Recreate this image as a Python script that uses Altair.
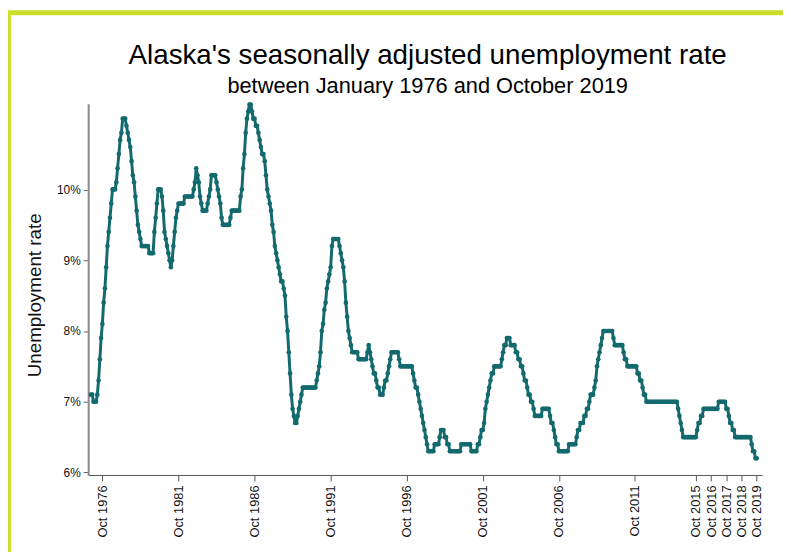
import altair as alt
import pandas as pd

# Alaska seasonally adjusted unemployment rate (%), monthly, Jan 1976 - Oct 2019
rates_by_year = {
    1976: [7.1, 7.1, 7.0, 7.0, 7.0, 7.1, 7.3, 7.6, 7.9, 8.1, 8.4, 8.6],
    1977: [8.9, 9.2, 9.4, 9.6, 9.8, 10.0, 10.0, 10.0, 10.1, 10.3, 10.5, 10.7],
    1978: [10.8, 11.0, 11.0, 11.0, 10.9, 10.8, 10.7, 10.6, 10.4, 10.2, 10.1, 9.9],
    1979: [9.7, 9.5, 9.4, 9.3, 9.2, 9.2, 9.2, 9.2, 9.2, 9.2, 9.1, 9.1],
    1980: [9.1, 9.1, 9.4, 9.6, 9.8, 10.0, 10.0, 10.0, 9.9, 9.7, 9.4, 9.3],
    1981: [9.2, 9.1, 9.0, 8.9, 9.0, 9.2, 9.4, 9.6, 9.7, 9.8, 9.8, 9.8],
    1982: [9.8, 9.8, 9.9, 9.9, 9.9, 9.9, 9.9, 9.9, 9.9, 10.0, 10.1, 10.3],
    1983: [10.2, 10.1, 9.9, 9.8, 9.7, 9.7, 9.7, 9.7, 9.8, 9.9, 10.0, 10.2],
    1984: [10.2, 10.2, 10.2, 10.1, 10.0, 9.9, 9.8, 9.6, 9.5, 9.5, 9.5, 9.5],
    1985: [9.5, 9.5, 9.6, 9.7, 9.7, 9.7, 9.7, 9.7, 9.7, 9.7, 9.9, 10.0],
    1986: [10.3, 10.5, 10.8, 11.0, 11.1, 11.2, 11.2, 11.1, 11.0, 11.0, 10.9, 10.9],
    1987: [10.8, 10.7, 10.6, 10.5, 10.5, 10.4, 10.2, 10.0, 9.9, 9.8, 9.7, 9.5],
    1988: [9.4, 9.2, 9.1, 9.0, 8.9, 8.8, 8.7, 8.7, 8.6, 8.5, 8.2, 8.0],
    1989: [7.7, 7.4, 7.1, 6.9, 6.8, 6.7, 6.7, 6.8, 6.9, 7.0, 7.1, 7.2],
    1990: [7.2, 7.2, 7.2, 7.2, 7.2, 7.2, 7.2, 7.2, 7.2, 7.2, 7.3, 7.4],
    1991: [7.5, 7.7, 8.0, 8.1, 8.3, 8.4, 8.6, 8.7, 8.8, 8.9, 9.2, 9.3],
    1992: [9.3, 9.3, 9.3, 9.3, 9.2, 9.1, 9.0, 8.9, 8.7, 8.4, 8.2, 8.0],
    1993: [7.9, 7.8, 7.7, 7.7, 7.7, 7.7, 7.7, 7.6, 7.6, 7.6, 7.6, 7.6],
    1994: [7.6, 7.6, 7.7, 7.8, 7.7, 7.6, 7.5, 7.4, 7.4, 7.3, 7.2, 7.2],
    1995: [7.1, 7.1, 7.1, 7.2, 7.3, 7.3, 7.4, 7.5, 7.6, 7.7, 7.7, 7.7],
    1996: [7.7, 7.7, 7.7, 7.6, 7.5, 7.5, 7.5, 7.5, 7.5, 7.5, 7.5, 7.5],
    1997: [7.5, 7.5, 7.4, 7.3, 7.2, 7.2, 7.1, 7.0, 6.9, 6.8, 6.7, 6.6],
    1998: [6.5, 6.4, 6.3, 6.3, 6.3, 6.3, 6.3, 6.4, 6.4, 6.4, 6.4, 6.5],
    1999: [6.6, 6.6, 6.6, 6.5, 6.5, 6.4, 6.4, 6.3, 6.3, 6.3, 6.3, 6.3],
    2000: [6.3, 6.3, 6.3, 6.3, 6.4, 6.4, 6.4, 6.4, 6.4, 6.4, 6.4, 6.4],
    2001: [6.3, 6.3, 6.3, 6.3, 6.3, 6.4, 6.4, 6.5, 6.6, 6.6, 6.7, 6.9],
    2002: [7.0, 7.1, 7.2, 7.3, 7.4, 7.4, 7.5, 7.5, 7.5, 7.5, 7.5, 7.5],
    2003: [7.6, 7.7, 7.8, 7.8, 7.9, 7.9, 7.9, 7.8, 7.8, 7.8, 7.8, 7.7],
    2004: [7.7, 7.6, 7.6, 7.5, 7.5, 7.4, 7.3, 7.3, 7.2, 7.1, 7.1, 7.0],
    2005: [7.0, 6.9, 6.8, 6.8, 6.8, 6.8, 6.8, 6.8, 6.9, 6.9, 6.9, 6.9],
    2006: [6.9, 6.9, 6.8, 6.7, 6.7, 6.6, 6.5, 6.4, 6.4, 6.3, 6.3, 6.3],
    2007: [6.3, 6.3, 6.3, 6.3, 6.3, 6.4, 6.4, 6.4, 6.4, 6.4, 6.4, 6.5],
    2008: [6.6, 6.6, 6.7, 6.7, 6.7, 6.8, 6.8, 6.9, 6.9, 7.0, 7.1, 7.1],
    2009: [7.1, 7.2, 7.3, 7.5, 7.6, 7.7, 7.8, 7.9, 8.0, 8.0, 8.0, 8.0],
    2010: [8.0, 8.0, 8.0, 8.0, 7.9, 7.8, 7.8, 7.8, 7.8, 7.8, 7.8, 7.8],
    2011: [7.7, 7.6, 7.6, 7.5, 7.5, 7.5, 7.5, 7.5, 7.5, 7.5, 7.5, 7.4],
    2012: [7.4, 7.3, 7.3, 7.2, 7.1, 7.1, 7.0, 7.0, 7.0, 7.0, 7.0, 7.0],
    2013: [7.0, 7.0, 7.0, 7.0, 7.0, 7.0, 7.0, 7.0, 7.0, 7.0, 7.0, 7.0],
    2014: [7.0, 7.0, 7.0, 7.0, 7.0, 7.0, 7.0, 6.9, 6.8, 6.7, 6.6, 6.5],
    2015: [6.5, 6.5, 6.5, 6.5, 6.5, 6.5, 6.5, 6.5, 6.5, 6.5, 6.6, 6.7],
    2016: [6.7, 6.8, 6.8, 6.9, 6.9, 6.9, 6.9, 6.9, 6.9, 6.9, 6.9, 6.9],
    2017: [6.9, 6.9, 6.9, 7.0, 7.0, 7.0, 7.0, 7.0, 7.0, 6.9, 6.9, 6.8],
    2018: [6.7, 6.7, 6.6, 6.6, 6.5, 6.5, 6.5, 6.5, 6.5, 6.5, 6.5, 6.5],
    2019: [6.5, 6.5, 6.5, 6.5, 6.5, 6.4, 6.3, 6.3, 6.2, 6.2],
}

month_names = ["Jan", "Feb", "Mar", "Apr", "May", "Jun",
               "Jul", "Aug", "Sep", "Oct", "Nov", "Dec"]

tick_years = [1976, 1981, 1986, 1991, 1996, 2001, 2006, 2011,
              2015, 2016, 2017, 2018, 2019]
tick_month = 10  # October
y_ticks = [6, 7, 8, 9, 10]

title_text = "Alaska's seasonally adjusted unemployment rate"
subtitle_text = "between January 1976 and October 2019"
y_title = "Unemployment rate"

line_color = "#136a6e"
border_color = "#cddd2b"

rows = []
idx = 0
for yr, vals in rates_by_year.items():
    for m, v in enumerate(vals):
        rows.append({"idx": idx, "label": f"{month_names[m]} {yr}", "rate": v})
        idx += 1
df = pd.DataFrame(rows)

tick_vals = [(y - 1976) * 12 + (tick_month - 1) for y in tick_years]

font = "Liberation Sans"

x_enc = alt.X(
    "idx:Q",
    scale=alt.Scale(domain=[-2.2, 529.3], nice=False, zero=False),
    axis=alt.Axis(
        values=tick_vals,
        labelExpr="'Oct ' + (1976 + floor(datum.value / 12))",
        labelAngle=-90,
        title=None,
        grid=False,
        tickSize=6,
        labelPadding=4,
        labelFontSize=13,
        labelFont=font,
        labelColor="#111",
        domainColor="#555",
        tickColor="#555",
        domainWidth=1,
    ),
)
y_enc = alt.Y(
    "rate:Q",
    scale=alt.Scale(domain=[5.965, 11.21], nice=False, zero=False),
    axis=alt.Axis(
        values=y_ticks,
        labelExpr="datum.value + '%'",
        title=y_title,
        titleFont=font,
        titleFontSize=19,
        titleFontWeight="normal",
        titleColor="#111",
        titlePadding=12,
        titleY=295 - 102,
        grid=False,
        tickSize=5,
        labelPadding=3,
        labelFontSize=12,
        labelFont=font,
        labelColor="#111",
        domainColor="#8a8a8a",
        tickColor="#666",
        domainWidth=2,
    ),
)

line = alt.Chart(df).mark_line(
    color=line_color,
    strokeWidth=3,
    point=alt.OverlayMarkDef(filled=True, size=22, color=line_color, opacity=1),
).encode(x=x_enc, y=y_enc, tooltip=["label", "rate"])

blank = alt.Data(values=[{"a": 1}])
top_border = alt.Chart(blank).mark_rule(color=border_color, strokeWidth=5).encode(
    x=alt.value(-81), x2=alt.value(702), y=alt.value(-92)
)
left_border = alt.Chart(blank).mark_rule(color=border_color, strokeWidth=3).encode(
    x=alt.value(-79.5), y=alt.value(-94), y2=alt.value(460)
)
title_mark = alt.Chart(blank).mark_text(
    text=title_text, font=font, fontSize=28, color="#000",
    align="center", baseline="alphabetic",
).encode(x=alt.value(343), y=alt.value(-40))
subtitle_mark = alt.Chart(blank).mark_text(
    text=subtitle_text, font=font, fontSize=22, color="#000",
    align="center", baseline="alphabetic",
).encode(x=alt.value(343), y=alt.value(-11))

chart = alt.layer(top_border, left_border, title_mark, subtitle_mark, line).properties(
    width=681,
    height=375,
    background="white",
    autosize=alt.AutoSizeParams(type="none"),
    padding={"left": 81, "top": 94, "right": 21, "bottom": 75},
).configure_view(strokeWidth=0)

chart.save("out.html", embed_options={"renderer": "svg", "actions": False})
